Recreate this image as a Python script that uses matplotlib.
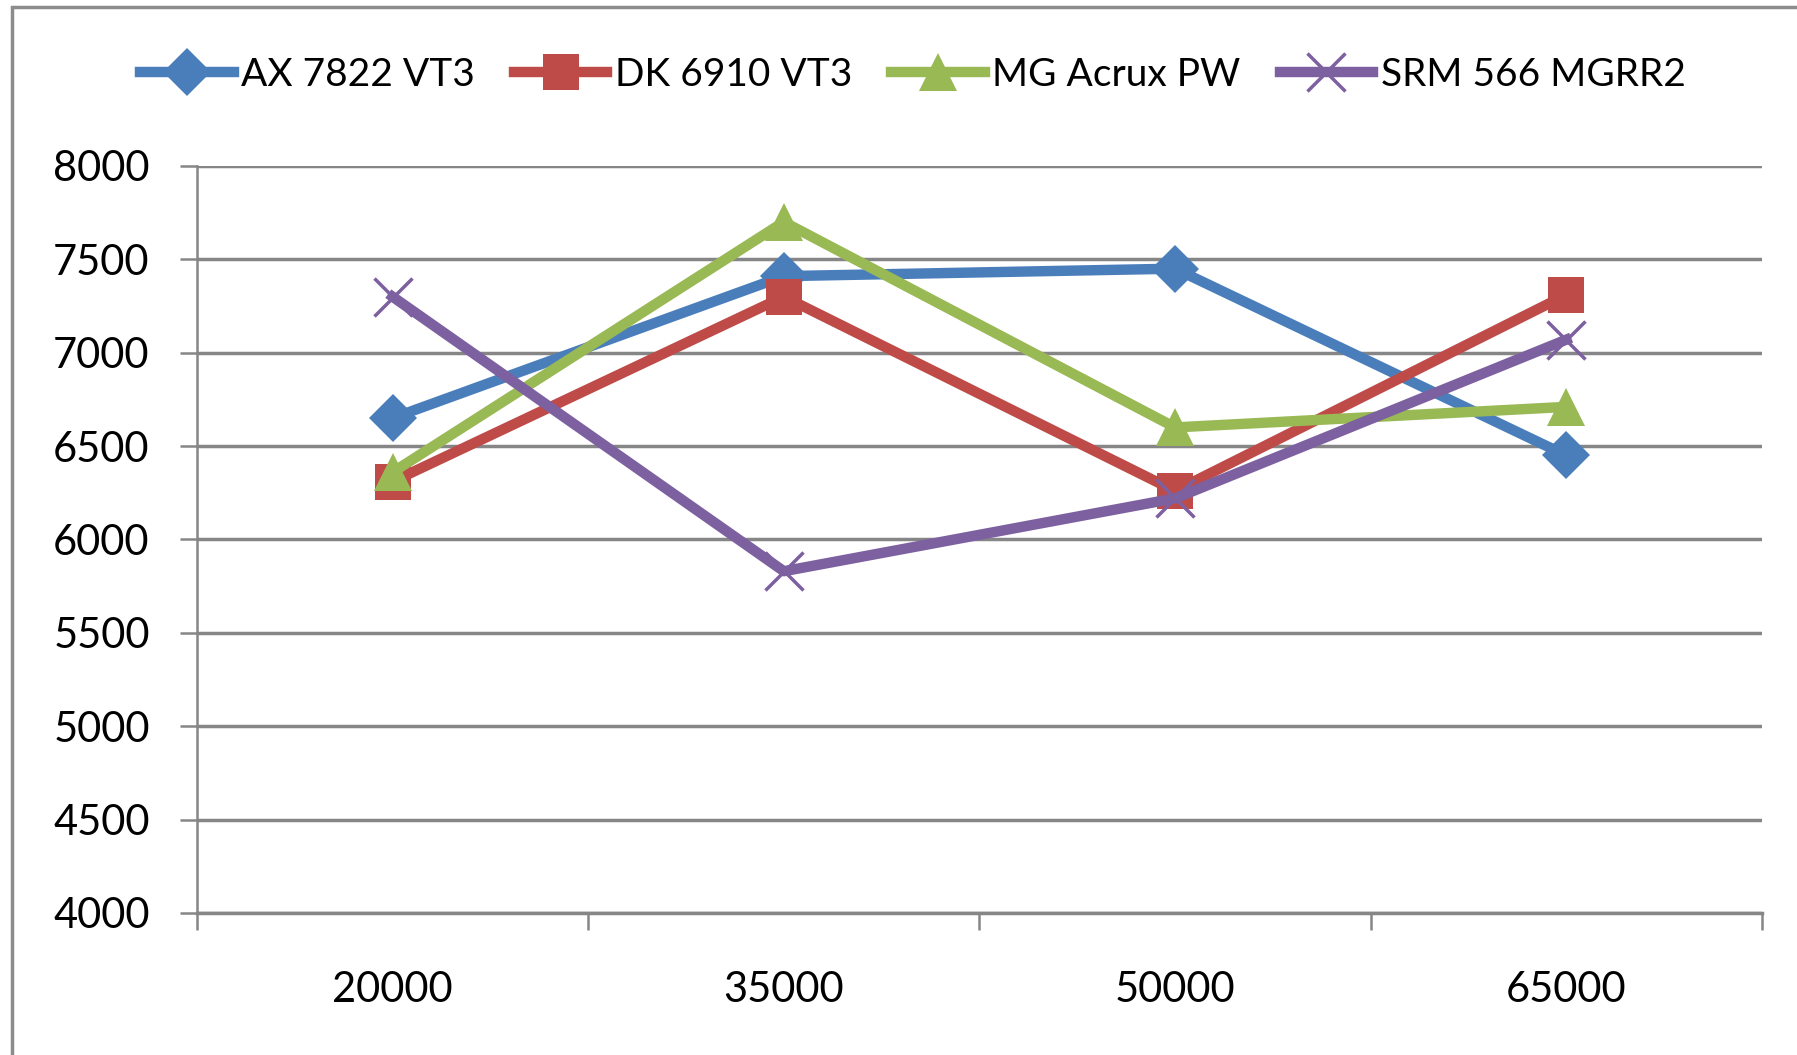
import numpy as np
import matplotlib
matplotlib.use("Agg")
import matplotlib.pyplot as plt
from matplotlib.patches import Rectangle

# Datos de la gráfica
categorias = ["20000", "35000", "50000", "65000"]
ax_7822 = [6650, 7410, 7450, 6450]
dk_6910 = [6310, 7300, 6260, 7310]
mg_acrux = [6360, 7700, 6600, 6710]
srm_566 = [7300, 5830, 6220, 7070]

nombres = ["AX 7822 VT3", "DK 6910 VT3", "MG Acrux PW", "SRM 566 MGRR2"]
colores = ["#4A7EBB", "#BE4B48", "#98B954", "#7D60A0"]
marcadores = ["D", "s", "^", "x"]
tamanos = [24, 26, 28, 27]

plt.rcParams['font.family'] = ['Lato', 'DejaVu Sans']

fig = plt.figure(figsize=(17.97, 10.55), dpi=100)
ax = fig.add_axes([0.1096, 0.1346, 0.8709, 0.7081])

# Borde exterior del gráfico
fig.patches.append(Rectangle((12 / 1797, -0.1), 1.2, 1.1 - 7 / 1055,
                             transform=fig.transFigure, fill=False,
                             edgecolor="#8c8c8c", linewidth=2.5))

x = np.arange(len(categorias))
series = [ax_7822, dk_6910, mg_acrux, srm_566]
for valores, nombre, color, m, t in zip(series, nombres, colores, marcadores, tamanos):
    ax.plot(x, valores, color=color, linewidth=7.5, marker=m, markersize=t,
            markeredgewidth=2.5 if m == "x" else 0, markeredgecolor=color,
            label=nombre, solid_joinstyle="round", clip_on=False)

ax.set_ylim(4000, 8000)
ax.set_yticks(np.arange(4000, 8001, 500))
ax.set_xlim(-0.5, 3.5)
ax.set_xticks(x)
ax.set_xticklabels(categorias)
ax.set_xticks(np.arange(-0.5, 3.6, 1), minor=True)

ax.yaxis.grid(True, color="#868686", linewidth=2.5)
ax.set_axisbelow(True)
for lado in ["top", "right"]:
    ax.spines[lado].set_visible(False)
ax.spines["left"].set_color("#868686")
ax.spines["left"].set_linewidth(1.8)
ax.spines["bottom"].set_color("#868686")
ax.spines["bottom"].set_linewidth(2.5)

ax.tick_params(axis="y", labelsize=30, length=12, width=1.8, color="#868686", pad=22)
ax.tick_params(axis="x", which="major", labelsize=30, length=0, pad=42)
ax.tick_params(axis="x", which="minor", length=12, width=1.8, color="#868686")

ax.legend(loc="center", bbox_to_anchor=(0.508, 0.929), bbox_transform=fig.transFigure,
          ncol=4, frameon=False, fontsize=28, handlelength=2.4, handletextpad=0.2,
          columnspacing=1.0, markerscale=1.0)

fig.savefig("out.png", dpi=100)
